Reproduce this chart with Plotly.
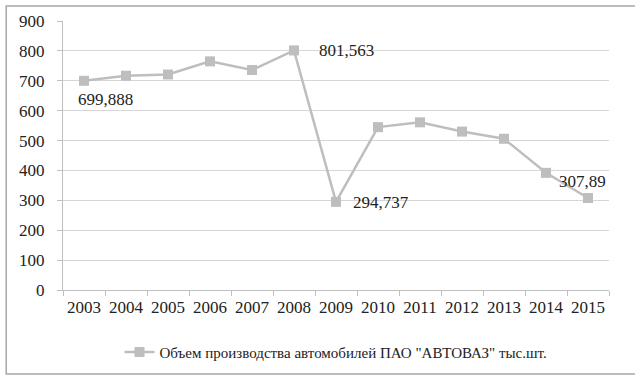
import plotly.graph_objects as go

# Chart data
YEARS = ['2003', '2004', '2005', '2006', '2007', '2008', '2009',
         '2010', '2011', '2012', '2013', '2014', '2015']
OUTPUT = [699.888, 717, 721, 765, 736, 801.563, 294.737,
          545, 561, 530, 506, 392, 307.89]
SERIES_NAME = 'Объем производства автомобилей ПАО "АВТОВАЗ" тыс.шт.'

# which points carry a value label, and where (pixel offsets)
LABELLED = {0: (21, -19), 5: (52, 0), 6: (45, -1), 12: (-6, 16)}

GRAY = '#BEBEBE'
FONT = 'Liberation Serif'


def fmt(v):
    return ('%g' % v).replace('.', ',')


fig = go.Figure()
fig.add_trace(go.Scatter(
    x=YEARS,
    y=OUTPUT,
    mode='lines+markers',
    name=SERIES_NAME,
    line=dict(color=GRAY, width=2.5),
    marker=dict(symbol='square', size=10, color=GRAY),
))

annotations = []
for i, (dx, dy) in LABELLED.items():
    annotations.append(dict(
        xref='x', yref='y', x=i, y=OUTPUT[i], text=fmt(OUTPUT[i]),
        showarrow=False, xshift=dx, yshift=dy,
        font=dict(family=FONT, size=17, color='#222'),
    ))

fig.update_layout(
    width=635, height=376,
    margin=dict(l=63, r=26, t=21, b=86),
    paper_bgcolor='white',
    plot_bgcolor='white',
    font=dict(family=FONT, size=17, color='#222'),
    showlegend=True,
    legend=dict(orientation='h', x=0.5, xanchor='center',
                yref='container', y=0.063, yanchor='middle',
                font=dict(family=FONT, size=15, color='#222')),
    annotations=annotations,
    xaxis=dict(
        type='category', showgrid=False, showline=True, linecolor='#BFBFBF',
        ticks='outside', ticklen=5, tickcolor='#BFBFBF', tickson='boundaries',
        range=[-0.5, len(YEARS) - 0.5], ticklabelstandoff=2,
        tickangle=0, automargin=False,
        tickfont=dict(family=FONT, size=17),
    ),
    yaxis=dict(
        range=[0, 900], dtick=100, showgrid=True, gridcolor='#D6D6D6',
        showline=True, linecolor='#BFBFBF', ticks='outside', ticklen=5,
        tickcolor='#BFBFBF', zeroline=False, ticklabelstandoff=9,
        automargin=False, tickfont=dict(family=FONT, size=17),
    ),
    shapes=[dict(type='rect', xref='paper', yref='paper',
                 x0=-0.104, x1=1.06, y0=-0.312, y1=1.056,
                 line=dict(color='#A6A6A6', width=1.5))],
)

fig.write_html('out.html', config={'displayModeBar': False},
               post_script="document.body.style.margin='0';")
